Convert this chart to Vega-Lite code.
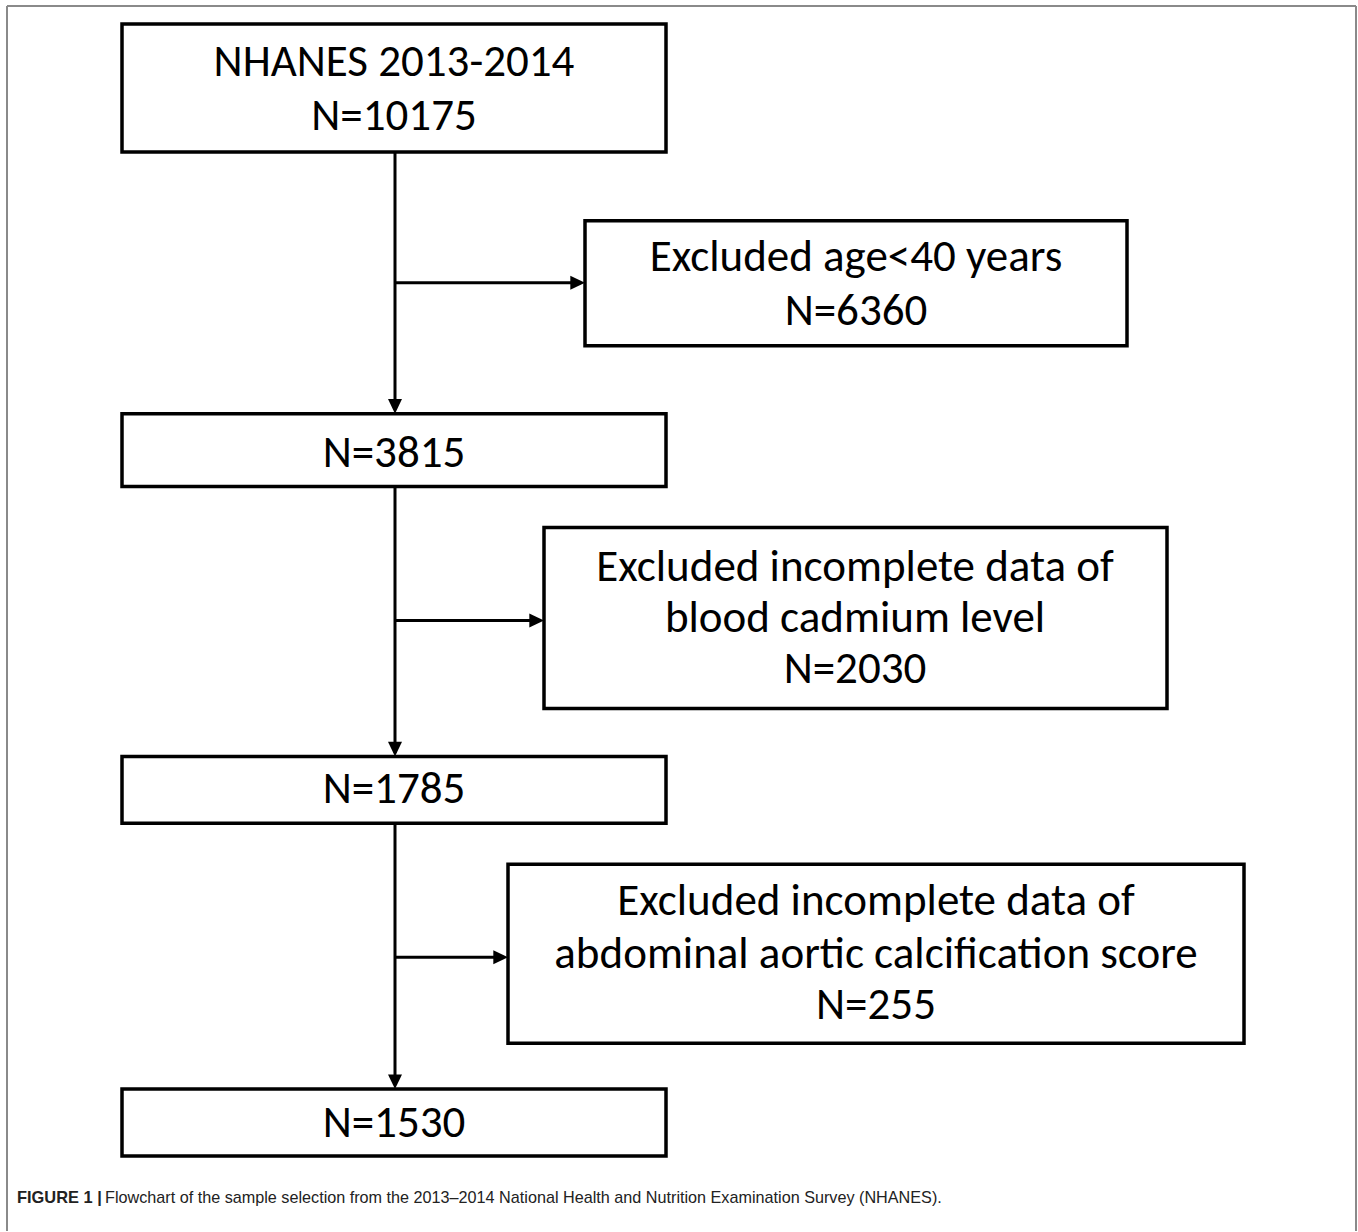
{
  "$schema": "https://vega.github.io/schema/vega-lite/v6.json",
  "width": 1358,
  "height": 1232,
  "autosize": {"type": "fit", "contains": "padding"},
  "padding": 0,
  "background": "white",
  "view": {"stroke": null},
  "datasets": {
    "boxes": [
      {"id": 1, "x1": 122, "x2": 666, "y1": 24, "y2": 152},
      {"id": 2, "x1": 585, "x2": 1127, "y1": 221, "y2": 346},
      {"id": 3, "x1": 122, "x2": 666, "y1": 414, "y2": 487},
      {"id": 4, "x1": 544, "x2": 1167, "y1": 528, "y2": 709},
      {"id": 5, "x1": 122, "x2": 666, "y1": 757, "y2": 824},
      {"id": 6, "x1": 508, "x2": 1244, "y1": 865, "y2": 1044},
      {"id": 7, "x1": 122, "x2": 666, "y1": 1090, "y2": 1157}
    ],
    "links": [
      {"x1": 395, "x2": 395, "y1": 152, "y2": 410},
      {"x1": 395, "x2": 395, "y1": 487, "y2": 753},
      {"x1": 395, "x2": 395, "y1": 824, "y2": 1086},
      {"x1": 395, "x2": 581, "y1": 283, "y2": 283},
      {"x1": 395, "x2": 540, "y1": 621, "y2": 621},
      {"x1": 395, "x2": 504, "y1": 958, "y2": 958}
    ],
    "heads_down": [
      {"x": 395, "y": 414},
      {"x": 395, "y": 757},
      {"x": 395, "y": 1090}
    ],
    "heads_right": [
      {"x": 585, "y": 283},
      {"x": 544, "y": 621},
      {"x": 508, "y": 958}
    ],
    "frame": [
      {"x1": 7, "x2": 7, "y1": 6, "y2": 1232},
      {"x1": 1356, "x2": 1356, "y1": 6, "y2": 1232},
      {"x1": 7, "x2": 1356, "y1": 6, "y2": 6}
    ],
    "labels": [
      {"x": 394, "y": 62, "text": "NHANES 2013-2014"},
      {"x": 394, "y": 116, "text": "N=10175"},
      {"x": 856, "y": 257, "text": "Excluded age<40 years"},
      {"x": 856, "y": 311, "text": "N=6360"},
      {"x": 394, "y": 453, "text": "N=3815"},
      {"x": 855, "y": 567, "text": "Excluded incomplete data of"},
      {"x": 855, "y": 619, "text": "blood cadmium level"},
      {"x": 855, "y": 670, "text": "N=2030"},
      {"x": 394, "y": 790, "text": "N=1785"},
      {"x": 876, "y": 902, "text": "Excluded incomplete data of"},
      {"x": 876, "y": 955, "text": "abdominal aortic calcification score"},
      {"x": 876, "y": 1006, "text": "N=255"},
      {"x": 394, "y": 1124, "text": "N=1530"}
    ],
    "caption_bold": [{"x": 17, "y": 1199, "text": "FIGURE 1 |"}],
    "caption": [{"x": 105, "y": 1199, "text": "Flowchart of the sample selection from the 2013–2014 National Health and Nutrition Examination Survey (NHANES)."}]
  },
  "encoding": {
    "x": {"type": "quantitative", "scale": {"domain": [0, 1358], "nice": false, "zero": false}, "axis": null},
    "y": {"type": "quantitative", "scale": {"domain": [0, 1232], "nice": false, "zero": false, "reverse": true}, "axis": null}
  },
  "layer": [
    {
      "data": {"name": "frame"},
      "mark": {"type": "rule", "color": "#8a8a8a", "strokeWidth": 2},
      "encoding": {
        "x": {"field": "x1", "type": "quantitative"},
        "x2": {"field": "x2"},
        "y": {"field": "y1", "type": "quantitative"},
        "y2": {"field": "y2"}
      }
    },
    {
      "data": {"name": "links"},
      "mark": {"type": "rule", "color": "black", "strokeWidth": 3},
      "encoding": {
        "x": {"field": "x1", "type": "quantitative"},
        "x2": {"field": "x2"},
        "y": {"field": "y1", "type": "quantitative"},
        "y2": {"field": "y2"}
      }
    },
    {
      "data": {"name": "boxes"},
      "mark": {"type": "rect", "fill": "white", "stroke": "black", "strokeWidth": 3.5},
      "encoding": {
        "x": {"field": "x1", "type": "quantitative"},
        "x2": {"field": "x2"},
        "y": {"field": "y1", "type": "quantitative"},
        "y2": {"field": "y2"}
      }
    },
    {
      "data": {"name": "heads_right"},
      "mark": {"type": "point", "shape": "M 0 0 L -2.1 -1 L -2.1 1 Z", "filled": true, "color": "black", "size": 196, "opacity": 1},
      "encoding": {
        "x": {"field": "x", "type": "quantitative"},
        "y": {"field": "y", "type": "quantitative"}
      }
    },
    {
      "data": {"name": "heads_down"},
      "mark": {"type": "point", "shape": "M 0 0 L -1 -2.1 L 1 -2.1 Z", "filled": true, "color": "black", "size": 196, "opacity": 1},
      "encoding": {
        "x": {"field": "x", "type": "quantitative"},
        "y": {"field": "y", "type": "quantitative"}
      }
    },
    {
      "data": {"name": "labels"},
      "mark": {"type": "text", "font": "Carlito, Lato", "fontSize": 45, "color": "black", "align": "center", "baseline": "middle"},
      "encoding": {
        "x": {"field": "x", "type": "quantitative"},
        "y": {"field": "y", "type": "quantitative"},
        "text": {"field": "text"}
      }
    },
    {
      "data": {"name": "caption_bold"},
      "mark": {"type": "text", "font": "Liberation Sans Narrow, Liberation Sans", "fontSize": 16.4, "fontWeight": "bold", "color": "#222", "align": "left", "baseline": "middle"},
      "encoding": {
        "x": {"field": "x", "type": "quantitative"},
        "y": {"field": "y", "type": "quantitative"},
        "text": {"field": "text"}
      }
    },
    {
      "data": {"name": "caption"},
      "mark": {"type": "text", "font": "Liberation Sans Narrow, Liberation Sans", "fontSize": 16.2, "color": "#222", "align": "left", "baseline": "middle"},
      "encoding": {
        "x": {"field": "x", "type": "quantitative"},
        "y": {"field": "y", "type": "quantitative"},
        "text": {"field": "text"}
      }
    }
  ]
}
